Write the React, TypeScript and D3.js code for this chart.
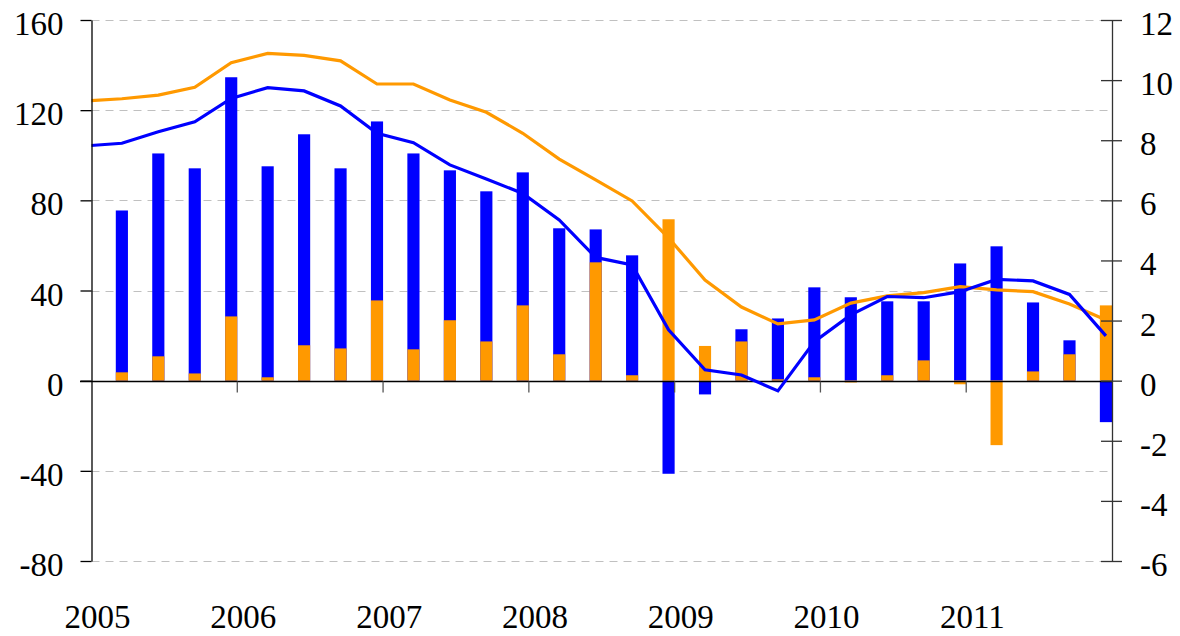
import * as d3 from 'd3';
import { useEffect, useRef } from 'react';

// Quarterly categories (bars sit on the last month of each quarter)
const quarters = [
  '2005Q1', '2005Q2', '2005Q3', '2005Q4',
  '2006Q1', '2006Q2', '2006Q3', '2006Q4',
  '2007Q1', '2007Q2', '2007Q3', '2007Q4',
  '2008Q1', '2008Q2', '2008Q3', '2008Q4',
  '2009Q1', '2009Q2', '2009Q3', '2009Q4',
  '2010Q1', '2010Q2', '2010Q3', '2010Q4',
  '2011Q1', '2011Q2', '2011Q3', '2011Q4',
];
// lines carry one extra point before the first bar
const lineQuarters = ['2004Q4', ...quarters];

const years = ['2005', '2006', '2007', '2008', '2009', '2010', '2011'];

// bars, left axis
const blueBars = [75.5, 100.8, 94.2, 134.6, 95.1, 109.3, 94.2, 115.0, 100.8, 93.3, 84.0, 92.4, 67.6, 67.1,
  55.6, -41.3, -6.1, 22.8, 27.6, 41.4, 37.0, 35.2, 35.2, 52.0, 59.6, 34.7, 17.9, -18.4];
const orangeBars = [3.7, 10.8, 3.2, 28.5, 1.5, 15.7, 14.3, 35.6, 13.9, 26.8, 17.4, 33.4, 11.7, 52.5,
  2.4, 71.6, 15.4, 17.4, 0.6, 1.5, -0.8, 2.4, 9.0, -1.6, -28.6, 4.1, 11.7, 33.4];

// lines, right axis
const blueLine = [7.81, 7.90, 8.28, 8.61, 9.39, 9.75, 9.64, 9.14, 8.23, 7.92, 7.18, 6.71, 6.23, 5.35, 4.10,
  3.85, 1.69, 0.36, 0.19, -0.34, 1.30, 2.19, 2.80, 2.76, 2.96, 3.37, 3.32, 2.87, 1.49];
const orangeLine = [9.31, 9.38, 9.50, 9.76, 10.58, 10.89, 10.82, 10.64, 9.87, 9.87, 9.34, 8.93, 8.23, 7.37,
  6.68, 5.98, 4.75, 3.35, 2.45, 1.89, 2.02, 2.58, 2.82, 2.93, 3.13, 3.02, 2.96, 2.55, 2.02];

const leftTicks = [-80, -40, 0, 40, 80, 120, 160];
const rightTicks = [-6, -4, -2, 0, 2, 4, 6, 8, 10, 12];

const BLUE = '#0000ff';
const ORANGE = '#ff9900';
const FONT = '"Liberation Serif", "Times New Roman", serif';

// month index counted from Jan 2005
const monthOf = (q: string) => (+q.slice(0, 4) - 2005) * 12 + +q.slice(5) * 3 - 1;

const App = () => {
  const ref = useRef<SVGSVGElement>(null);

  useEffect(() => {
    const svg = d3.select(ref.current);
    svg.selectAll('*').remove();

    const width = 1180, height = 636;
    const left = 91.5, right = 1112, top = 20, bottom = 561;

    svg.attr('width', width).attr('height', height);

    const x = d3.scaleLinear().domain([0, 84]).range([left, right]);
    const yL = d3.scaleLinear().domain([-80, 160]).range([bottom, top]);
    const yR = d3.scaleLinear().domain([-6, 12]).range([bottom, top]);
    const monthW = x(1) - x(0);
    const plain = (d: d3.NumberValue) => String(d); // hyphen minus, like the original

    // dashed gridlines
    svg.append('g')
      .selectAll('line')
      .data(leftTicks.filter(t => t !== 0))
      .enter()
      .append('line')
      .attr('x1', left)
      .attr('x2', right)
      .attr('y1', d => Math.round(yL(d)) + 0.5)
      .attr('y2', d => Math.round(yL(d)) + 0.5)
      .attr('stroke', '#c0c0c0')
      .attr('stroke-dasharray', '8,6');

    // bars: blue behind, orange in front
    const drawBars = (vals: number[], color: string) => {
      svg.append('g')
        .selectAll('rect')
        .data(vals)
        .enter()
        .append('rect')
        .attr('x', (_, i) => x(monthOf(quarters[i])))
        .attr('width', monthW)
        .attr('y', d => yL(Math.max(0, d)))
        .attr('height', d => Math.abs(yL(d) - yL(0)))
        .attr('fill', color);
    };
    drawBars(blueBars, BLUE);
    drawBars(orangeBars, ORANGE);

    // zero line and year ticks
    const y0 = Math.round(yL(0)) + 0.5;
    svg.append('line')
      .attr('x1', 80).attr('x2', right)
      .attr('y1', y0).attr('y2', y0)
      .attr('stroke', '#000').attr('stroke-width', 1.3);
    svg.append('g')
      .selectAll('line')
      .data(years.slice(1))
      .enter()
      .append('line')
      .attr('x1', (_, i) => x((i + 1) * 12))
      .attr('x2', (_, i) => x((i + 1) * 12))
      .attr('y1', y0)
      .attr('y2', y0 + 11)
      .attr('stroke', '#555')
      .attr('stroke-width', 1.3);

    // year labels, centred on January
    svg.append('g')
      .selectAll('text')
      .data(years)
      .enter()
      .append('text')
      .attr('x', (_, i) => x(i * 12 + 0.5))
      .attr('y', 628)
      .attr('text-anchor', 'middle')
      .style('font-family', FONT)
      .style('font-size', '33px')
      .text(d => d);

    // lines on the right axis, clipped to the plot
    svg.append('clipPath').attr('id', 'plotClip')
      .append('rect')
      .attr('x', left).attr('y', 0)
      .attr('width', right - left).attr('height', height);

    const line = d3.line<number>()
      .x((_, i) => x(monthOf(lineQuarters[i]) + 0.5))
      .y(d => yR(d));

    const lines = svg.append('g').attr('clip-path', 'url(#plotClip)');
    lines.append('path')
      .attr('d', line(orangeLine))
      .attr('fill', 'none')
      .attr('stroke', ORANGE)
      .attr('stroke-width', 3.2);
    lines.append('path')
      .attr('d', line(blueLine))
      .attr('fill', 'none')
      .attr('stroke', BLUE)
      .attr('stroke-width', 3.2);

    // left axis
    const axL = svg.append('g')
      .attr('transform', `translate(${left},0)`)
      .call(d3.axisLeft(yL).tickValues(leftTicks).tickFormat(plain)
        .tickSize(11).tickSizeOuter(0).tickPadding(17));
    axL.select('.domain').attr('stroke', '#000').attr('stroke-width', 1.3);
    axL.selectAll('.tick line').attr('stroke', '#000').attr('stroke-width', 1.3);
    axL.selectAll('.tick text')
      .attr('dy', '0.44em')
      .style('font-family', FONT)
      .style('font-size', '33px')
      .attr('fill', '#000');

    // right axis, ticks crossing the line
    const axR = svg.append('g')
      .attr('transform', `translate(${right},0)`)
      .call(d3.axisRight(yR).tickValues(rightTicks).tickFormat(plain)
        .tickSize(10).tickSizeOuter(0).tickPadding(18));
    axR.select('.domain').attr('stroke', '#333').attr('stroke-width', 1.3);
    axR.selectAll('.tick line').attr('x1', -11).attr('stroke', '#333').attr('stroke-width', 1.3);
    axR.selectAll('.tick text')
      .attr('dy', '0.44em')
      .style('font-family', FONT)
      .style('font-size', '33px')
      .attr('fill', '#000');
  }, []);

  return <svg ref={ref} style={{ position: 'absolute', left: 0, top: 0 }}></svg>;
};

export default App;
